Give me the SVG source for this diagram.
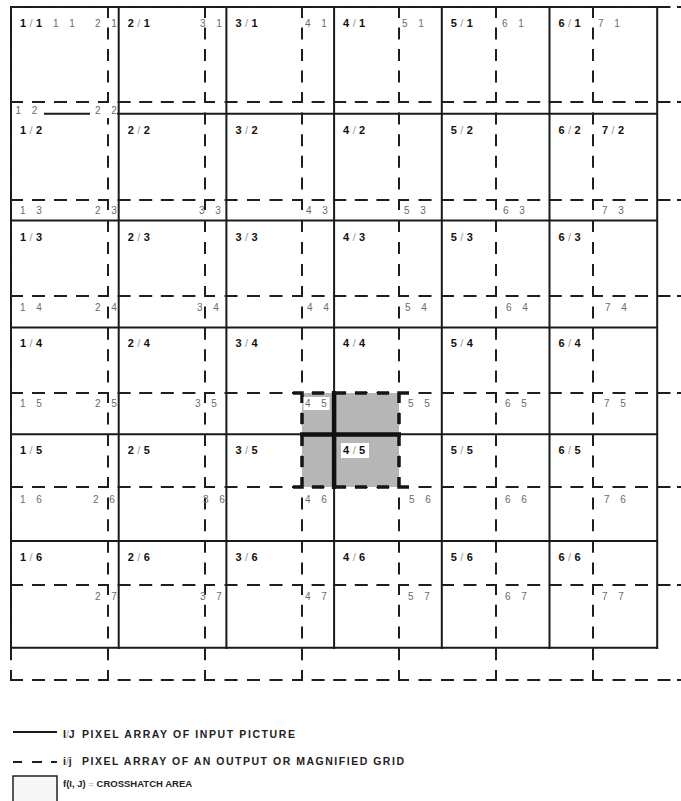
<svg xmlns="http://www.w3.org/2000/svg" xmlns:xlink="http://www.w3.org/1999/xlink" width="681" height="801" viewBox="0 0 681 801">
<style>
.sol{stroke:#1a1a1a;stroke-width:2;fill:none;stroke-linecap:square}
.dsh{stroke:#1e1e1e;stroke-width:2;fill:none;stroke-linecap:square}
.hv{stroke:#151515;stroke-width:3.5;fill:none}
.tk{stroke:#111;stroke-width:4.5;fill:none}
.b{font-family:"Liberation Sans",Arial,sans-serif;font-weight:bold;font-size:11px;letter-spacing:3.4px;fill:#111}
.b tspan{font-weight:normal;fill:#999}
.l{font-family:"Liberation Sans",Arial,sans-serif;font-size:10px;word-spacing:8px;fill:#6a6a6a}
.lg{font-family:"Liberation Sans",Arial,sans-serif;font-weight:bold;font-size:10.5px;fill:#222}
.lg tspan{font-weight:normal;fill:#999}
.wb{fill:#ffffff}
</style>
<defs>
<path id="vt" class="dsh" d="M0,7V17M0,28.5V38.5M0,50V60M0,71.5V81.5M0,93V102M0,113.6V123.6M0,135.2V145.2M0,156.8V166.8M0,178.4V188.4M0,200V209M0,221V231M0,243V253M0,265V275M0,287V296M0,307.4V317.4M0,328.8V338.8M0,350.2V360.2M0,371.6V381.6M0,393V402M0,413.5V423.5M0,435V445M0,456.5V466.5M0,478V487M0,498.6V508.6M0,520.2V530.2M0,541.8V551.8M0,563.4V573.4M0,585V594M0,605.75V615.75M0,627.5V637.5M0,649.25V659.25M0,671V680"/>
<path id="ht" class="dsh" d="M11,0H22M33,0H44M55,0H66M77,0H88M99,0H108M118.6,0H129.6M140.2,0H151.2M161.8,0H172.8M183.4,0H194.4M205,0H214M225.5,0H236.5M248,0H259M270.5,0H281.5M293,0H302M312.6,0H323.6M334.2,0H345.2M355.8,0H366.8M377.4,0H388.4M399,0H408M419.5,0H430.5M442,0H453M464.5,0H475.5M487,0H496M506.6,0H517.6M528.2,0H539.2M549.8,0H560.8M571.4,0H582.4M593,0H602M613.5,0H624.5M636,0H647M658.5,0H669.5M678,0H690"/>
</defs>
<rect x="0" y="0" width="681" height="801" fill="#ffffff"/>

<g id="input-grid">
<path class="sol" d="M11,7V648M118.7,7V648M226.4,7V648M334.1,7V648M441.8,7V648M549.5,7V648M657.2,7V648M11,7H657.2M11,113.8H657.2M11,220.6H657.2M11,327.4H657.2M11,434.2H657.2M11,541H657.2M11,647.8H657.2"/>
</g>

<g id="output-grid">
<use href="#vt" x="11"/>
<use href="#vt" x="108"/>
<use href="#vt" x="205"/>
<use href="#vt" x="302"/>
<use href="#vt" x="399"/>
<use href="#vt" x="496"/>
<use href="#vt" x="593"/>
<use href="#ht" y="7"/>
<use href="#ht" y="102"/>
<use href="#ht" y="200"/>
<use href="#ht" y="296"/>
<use href="#ht" y="393"/>
<use href="#ht" y="487"/>
<use href="#ht" y="585"/>
<use href="#ht" y="680"/>
</g>

<g id="crosshatch">
<rect x="302" y="393" width="97" height="94" fill="#b6b6b6"/>
<path class="tk" d="M334.1,391V489M300,434.5H401"/>
<path class="hv" d="M293,393H302V403M312,393H324M334,393H346M355,393H367M377,393H389M399,403V393H409M293,487H302V477M312,487H324M334,487H346M355,487H367M377,487H389M399,477V487H409M302,413V424M302,434V446M302,456V467M399,413V424M399,434V446M399,456V467"/>
<rect class="wb" x="303.5" y="397" width="26" height="13"/>
<rect class="wb" x="341" y="443" width="28" height="15"/>
</g>

<g id="label-bg">
<rect class="wb" x="12" y="106" width="32" height="12"/>
<rect class="wb" x="90" y="106" width="27" height="12"/>
</g>

<g id="input-labels">
<text class="b" x="20" y="27">1<tspan>/</tspan>1</text>
<text class="b" x="127.7" y="27">2<tspan>/</tspan>1</text>
<text class="b" x="235.4" y="27">3<tspan>/</tspan>1</text>
<text class="b" x="343.1" y="27">4<tspan>/</tspan>1</text>
<text class="b" x="450.8" y="27">5<tspan>/</tspan>1</text>
<text class="b" x="558.5" y="27">6<tspan>/</tspan>1</text>
<text class="b" x="20" y="133.8">1<tspan>/</tspan>2</text>
<text class="b" x="127.7" y="133.8">2<tspan>/</tspan>2</text>
<text class="b" x="235.4" y="133.8">3<tspan>/</tspan>2</text>
<text class="b" x="343.1" y="133.8">4<tspan>/</tspan>2</text>
<text class="b" x="450.8" y="133.8">5<tspan>/</tspan>2</text>
<text class="b" x="558.5" y="133.8">6<tspan>/</tspan>2</text>
<text class="b" x="602" y="133.8">7<tspan>/</tspan>2</text>
<text class="b" x="20" y="240.6">1<tspan>/</tspan>3</text>
<text class="b" x="127.7" y="240.6">2<tspan>/</tspan>3</text>
<text class="b" x="235.4" y="240.6">3<tspan>/</tspan>3</text>
<text class="b" x="343.1" y="240.6">4<tspan>/</tspan>3</text>
<text class="b" x="450.8" y="240.6">5<tspan>/</tspan>3</text>
<text class="b" x="558.5" y="240.6">6<tspan>/</tspan>3</text>
<text class="b" x="20" y="347.4">1<tspan>/</tspan>4</text>
<text class="b" x="127.7" y="347.4">2<tspan>/</tspan>4</text>
<text class="b" x="235.4" y="347.4">3<tspan>/</tspan>4</text>
<text class="b" x="343.1" y="347.4">4<tspan>/</tspan>4</text>
<text class="b" x="450.8" y="347.4">5<tspan>/</tspan>4</text>
<text class="b" x="558.5" y="347.4">6<tspan>/</tspan>4</text>
<text class="b" x="20" y="454.2">1<tspan>/</tspan>5</text>
<text class="b" x="127.7" y="454.2">2<tspan>/</tspan>5</text>
<text class="b" x="235.4" y="454.2">3<tspan>/</tspan>5</text>
<text class="b" x="343.1" y="454.2">4<tspan>/</tspan>5</text>
<text class="b" x="450.8" y="454.2">5<tspan>/</tspan>5</text>
<text class="b" x="558.5" y="454.2">6<tspan>/</tspan>5</text>
<text class="b" x="20" y="561">1<tspan>/</tspan>6</text>
<text class="b" x="127.7" y="561">2<tspan>/</tspan>6</text>
<text class="b" x="235.4" y="561">3<tspan>/</tspan>6</text>
<text class="b" x="343.1" y="561">4<tspan>/</tspan>6</text>
<text class="b" x="450.8" y="561">5<tspan>/</tspan>6</text>
<text class="b" x="558.5" y="561">6<tspan>/</tspan>6</text>
</g>

<g id="output-labels">
<text class="l" x="53" y="27">1 1</text>
<text class="l" x="95" y="27">2 1</text>
<text class="l" x="200" y="27">3 1</text>
<text class="l" x="305" y="27">4 1</text>
<text class="l" x="402" y="27">5 1</text>
<text class="l" x="502" y="27">6 1</text>
<text class="l" x="598" y="27">7 1</text>
<text class="l" x="15.5" y="114">1 2</text>
<text class="l" x="95" y="114">2 2</text>
<text class="l" x="20" y="214">1 3</text>
<text class="l" x="95" y="214">2 3</text>
<text class="l" x="199" y="214">3 3</text>
<text class="l" x="306" y="214">4 3</text>
<text class="l" x="404" y="214">5 3</text>
<text class="l" x="503" y="214">6 3</text>
<text class="l" x="602" y="214">7 3</text>
<text class="l" x="20" y="311">1 4</text>
<text class="l" x="95" y="311">2 4</text>
<text class="l" x="197" y="311">3 4</text>
<text class="l" x="307" y="311">4 4</text>
<text class="l" x="405" y="311">5 4</text>
<text class="l" x="506" y="311">6 4</text>
<text class="l" x="605" y="311">7 4</text>
<text class="l" x="20" y="407">1 5</text>
<text class="l" x="95" y="407">2 5</text>
<text class="l" x="195" y="407">3 5</text>
<text class="l" x="305" y="407">4 5</text>
<text class="l" x="408" y="407">5 5</text>
<text class="l" x="505" y="407">6 5</text>
<text class="l" x="604" y="407">7 5</text>
<text class="l" x="20" y="503">1 6</text>
<text class="l" x="93" y="503">2 6</text>
<text class="l" x="203" y="503">3 6</text>
<text class="l" x="305" y="503">4 6</text>
<text class="l" x="409" y="503">5 6</text>
<text class="l" x="505" y="503">6 6</text>
<text class="l" x="604" y="503">7 6</text>
<text class="l" x="95" y="600">2 7</text>
<text class="l" x="200" y="600">3 7</text>
<text class="l" x="305" y="600">4 7</text>
<text class="l" x="408" y="600">5 7</text>
<text class="l" x="505" y="600">6 7</text>
<text class="l" x="602" y="600">7 7</text>
</g>

<g id="legend">
<path class="sol" d="M13,732H57" style="stroke-linecap:butt"/>
<path class="dsh" d="M13,762H22M32,762H42M51,762H57" style="stroke-linecap:butt"/>
<rect x="13" y="776" width="44" height="30" fill="#f7f7f7" stroke="#222" stroke-width="1.5"/>
<text class="lg" x="63" y="738">I<tspan>/</tspan>J</text>
<text class="lg" x="82" y="738" textLength="213" lengthAdjust="spacing">PIXEL ARRAY OF INPUT PICTURE</text>
<text class="lg" x="63" y="765">i<tspan>/</tspan>j</text>
<text class="lg" x="82" y="765" textLength="322" lengthAdjust="spacing">PIXEL ARRAY OF AN OUTPUT OR MAGNIFIED GRID</text>
<text class="lg" x="63" y="787" style="font-size:9.5px">f(I, J) <tspan>=</tspan> CROSSHATCH AREA</text>
</g>
</svg>
